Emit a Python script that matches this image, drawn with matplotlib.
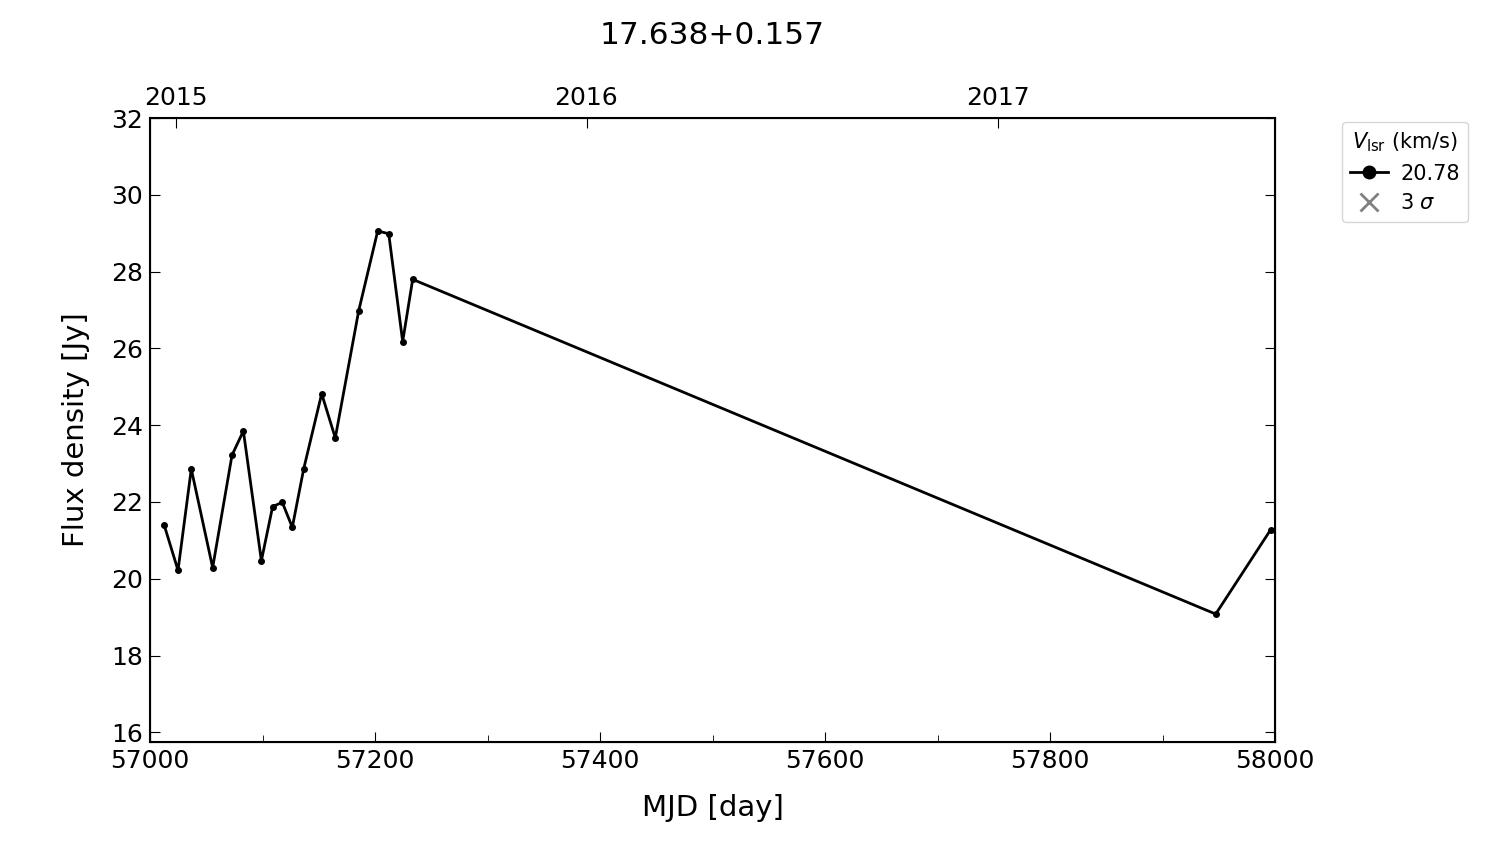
import matplotlib
matplotlib.use("Agg")
import matplotlib.pyplot as plt
from matplotlib.lines import Line2D

mjd = [57012.7, 57024.9, 57036.7, 57055.7, 57072.9, 57083.0, 57099.0, 57109.0,
       57117.6, 57126.5, 57136.6, 57152.6, 57164.7, 57185.5, 57202.4, 57212.2,
       57224.6, 57233.5, 57947.3, 57996.2]
flux = [21.39, 20.22, 22.86, 20.29, 23.22, 23.85, 20.47, 21.88,
        21.99, 21.34, 22.86, 24.82, 23.67, 26.98, 29.06, 28.99,
        26.18, 27.80, 19.08, 21.28]
vlsr = "20.78"
years = ["2015", "2016", "2017"]
year_mjd = [57023, 57388, 57754]

fig = plt.figure(figsize=(15, 8.44), dpi=100)
ax = fig.add_axes([0.1, 0.121, 0.75, 0.739])
ax.plot(mjd, flux, "-o", color="black", lw=2, ms=4)
ax.set_xlim(57000, 58000)
ax.set_ylim(15.75, 32)
ax.set_yticks(range(16, 33, 2))
ax.set_xticks(range(57000, 58001, 200))
ax.set_xticks(range(57100, 58000, 200), minor=True)
ax.tick_params(direction="in", which="both", right=True, top=True, labelsize=18, length=7, pad=5)
ax.tick_params(which="minor", length=5)
ax.set_xlabel("MJD [day]", fontsize=21, labelpad=15)
ax.set_ylabel("Flux density [Jy]", fontsize=21, labelpad=15)
for s in ax.spines.values():
    s.set_linewidth(1.5)

top = ax.twiny()
top.set_xlim(ax.get_xlim())
top.set_xticks(year_mjd)
top.set_xticklabels(years)
top.tick_params(direction="in", labelsize=18, length=7, pad=6)

fig.text(0.475, 1 - 35 / 844, "17.638+0.157", fontsize=22.5, ha="center", va="center")

handles = [Line2D([], [], color="black", marker="o", lw=2, ms=9),
           Line2D([], [], color="gray", marker="x", lw=0, ms=13, mew=2)]
ax.legend(handles, [vlsr, r"3 $\sigma$"], title=r"$V_{\rm lsr}$ (km/s)",
          loc="upper left", bbox_to_anchor=(1.0596, 0.994), fontsize=15,
          title_fontsize=15, handlelength=1.8, handletextpad=0.6,
          labelspacing=0.47, borderaxespad=0)

fig.savefig("out.png")
